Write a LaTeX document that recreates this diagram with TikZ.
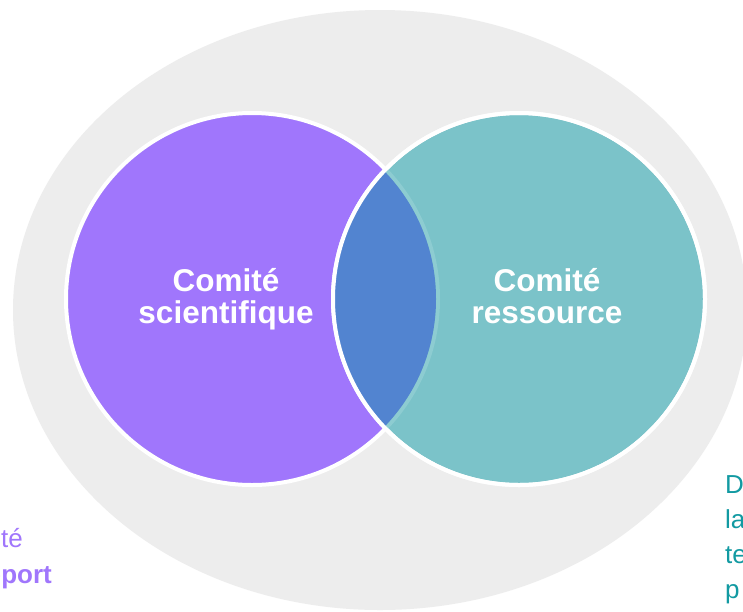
\documentclass[tikz,border=0pt]{standalone}
\usepackage{fontspec}
\setmainfont{Liberation Sans}
\definecolor{bgray}{HTML}{EDEDED}
\definecolor{vpurple}{HTML}{A076FC}
\definecolor{vteal}{HTML}{7BC3C9}
\definecolor{vlteal}{HTML}{8DCCD1}
\definecolor{vblue}{HTML}{5284D0}
\definecolor{tteal}{HTML}{129AA2}
\begin{document}
\begin{tikzpicture}[x=1pt,y=-1pt,
  circlabel/.style={anchor=base, inner sep=0pt, text=white, font=\fontsize{31.5}{32}\selectfont\bfseries},
  sidetext/.style={inner sep=0pt, font=\fontsize{26}{35}\selectfont},
  disc/.style={draw=white, line width=4pt}]
\useasboundingbox (0,0) rectangle (743,611);
\fill[white] (0,0) rectangle (743,611);
% outer gray ellipse
\fill[bgray] (380,310) ellipse [x radius=367, y radius=300];
\coordinate (P) at (252,299);
\coordinate (T) at (519,299);
% purple and teal discs
\path[disc, fill=vpurple] (P) circle [radius=186];
\path[disc, fill=vteal] (T) circle [radius=186];
% purple's border seen through the teal disc
\begin{scope}
  \clip (T) circle [radius=186];
  \draw[vlteal, line width=4pt] (P) circle [radius=186];
\end{scope}
% lens
\begin{scope}
  \clip (P) circle [radius=184];
  \fill[vblue] (T) circle [radius=186];
\end{scope}
\draw[white, line width=4pt] (T) circle [radius=186];
% labels
\node[circlabel] (sci1) at (226,291) {Comité};
\node[circlabel] (sci2) at (226,323) {scientifique};
\node[circlabel] (res1) at (547,291) {Comité};
\node[circlabel] (res2) at (547,323) {ressource};
% cut-off side texts
\node[sidetext, anchor=base east, text=vpurple] (sup1) at (23,547) {Comité};
\node[sidetext, anchor=base east, text=vpurple, font=\fontsize{26}{35}\selectfont\bfseries] (sup2) at (52,583) {support};
\node[sidetext, anchor=base west, text=tteal] (r1) at (725,493) {D};
\node[sidetext, anchor=base west, text=tteal] (r2) at (725,528) {la};
\node[sidetext, anchor=base west, text=tteal] (r3) at (725,563) {te};
\node[sidetext, anchor=base west, text=tteal] (r4) at (725,598) {p};
\end{tikzpicture}
\end{document}
